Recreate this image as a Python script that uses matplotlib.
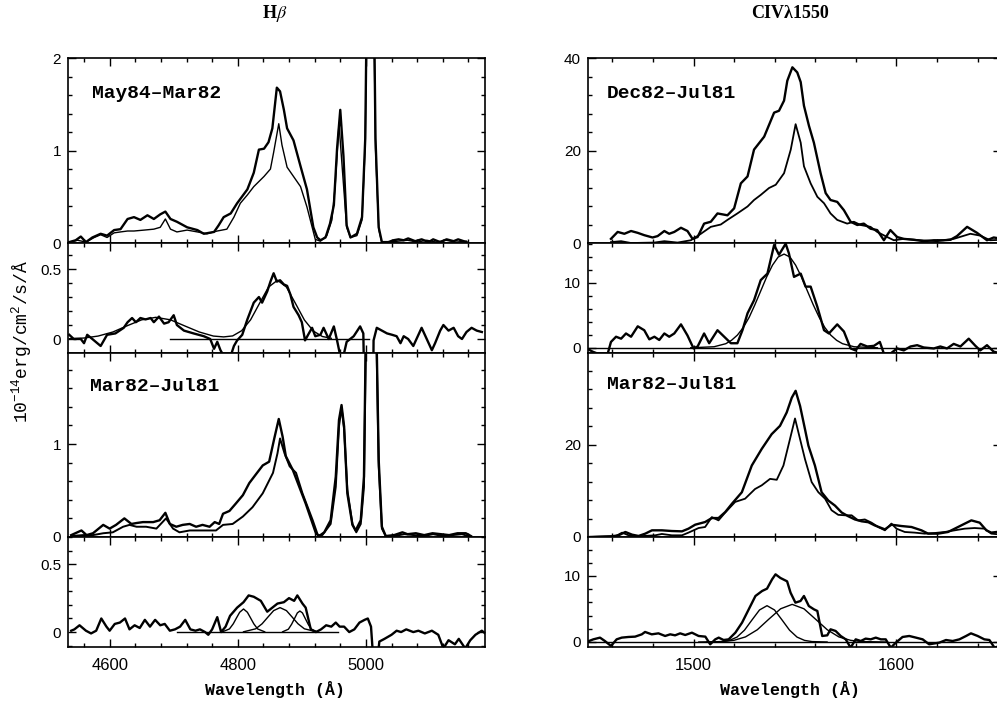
import matplotlib.pyplot as plt
from matplotlib.ticker import MultipleLocator, FuncFormatter

plt.rcParams['mathtext.fontset'] = 'stix'

# ---- H-beta region (left column) ----
# May84 and Mar82 spectra (thick = May84, thin = Mar82 scaled)
hb_may84 = [(4537, 0.01), (4547, 0.03), (4555, 0.07), (4563, 0.01), (4573, 0.06), (4586, 0.10),
            (4596, 0.08), (4607, 0.14), (4617, 0.15), (4628, 0.26), (4638, 0.28), (4648, 0.25),
            (4659, 0.30), (4669, 0.26), (4679, 0.31), (4687, 0.34), (4695, 0.26), (4705, 0.23),
            (4721, 0.17), (4737, 0.14), (4747, 0.10), (4763, 0.12), (4770, 0.19), (4778, 0.28),
            (4789, 0.32), (4799, 0.43), (4815, 0.58), (4825, 0.76), (4833, 1.01), (4841, 1.02),
            (4848, 1.09), (4854, 1.24), (4861, 1.68), (4866, 1.64), (4872, 1.44), (4877, 1.24),
            (4887, 1.11), (4898, 0.83), (4908, 0.58), (4918, 0.17), (4924, 0.06), (4929, 0.03),
            (4937, 0.06), (4944, 0.21), (4950, 0.41), (4955, 1.02), (4960, 1.44), (4965, 0.94),
            (4970, 0.19), (4976, 0.06), (4986, 0.10), (4994, 0.28), (4999, 1.13), (5007, 6.0),
            (5015, 1.13), (5020, 0.17), (5025, 0.01), (5035, 0.01), (5043, 0.03), (5051, 0.04),
            (5059, 0.03), (5066, 0.05), (5077, 0.02), (5087, 0.04), (5098, 0.01), (5105, 0.04),
            (5116, 0.01), (5126, 0.04), (5137, 0.02), (5144, 0.04), (5157, 0.01)]
hb_mar82a = [(4537, 0.01), (4550, 0.03), (4563, 0.01), (4576, 0.06), (4586, 0.09), (4596, 0.06),
             (4607, 0.11), (4617, 0.12), (4628, 0.13), (4638, 0.13), (4654, 0.14), (4669, 0.15),
             (4679, 0.17), (4687, 0.26), (4695, 0.15), (4705, 0.12), (4721, 0.14), (4737, 0.12),
             (4752, 0.10), (4768, 0.13), (4783, 0.15), (4794, 0.28), (4804, 0.43), (4815, 0.52),
             (4825, 0.61), (4841, 0.72), (4851, 0.80), (4856, 0.98), (4864, 1.29), (4869, 1.06),
             (4877, 0.82), (4887, 0.72), (4898, 0.61), (4908, 0.39), (4921, 0.04), (4929, 0.02),
             (4939, 0.08), (4947, 0.25), (4952, 0.61), (4958, 1.29), (4963, 0.82), (4970, 0.17),
             (4976, 0.06), (4986, 0.08), (4994, 0.25), (4999, 1.06), (5007, 5.5), (5015, 1.02),
             (5020, 0.15), (5025, 0.0), (5035, 0.01), (5050, 0.02), (5065, 0.03), (5080, 0.01),
             (5095, 0.03), (5110, 0.01), (5125, 0.03), (5140, 0.01), (5157, 0.02)]

# difference spectrum May84-Mar82 and its fit
hb_diff1 = [(4537, 0.03), (4544, 0.0), (4555, 0.0), (4560, -0.03), (4565, 0.03), (4573, 0.0),
            (4586, -0.05), (4596, 0.03), (4609, 0.04), (4622, 0.08), (4628, 0.12), (4635, 0.15),
            (4641, 0.12), (4648, 0.15), (4656, 0.14), (4664, 0.15), (4669, 0.12), (4677, 0.16),
            (4685, 0.11), (4692, 0.12), (4700, 0.17), (4705, 0.10), (4716, 0.06), (4731, 0.04),
            (4747, 0.02), (4757, 0.0), (4763, -0.07), (4768, -0.02), (4773, -0.08), (4778, -0.12),
            (4789, -0.12), (4794, -0.05), (4799, -0.01), (4807, 0.03), (4815, 0.14), (4825, 0.26),
            (4833, 0.30), (4838, 0.26), (4846, 0.34), (4851, 0.41), (4856, 0.47), (4861, 0.41),
            (4866, 0.42), (4872, 0.39), (4877, 0.38), (4882, 0.32), (4887, 0.23), (4895, 0.17),
            (4900, 0.12), (4905, -0.01), (4911, 0.04), (4916, 0.08), (4921, 0.02), (4929, 0.03),
            (4934, 0.08), (4942, 0.0), (4950, 0.09), (4955, -0.01), (4960, -0.12), (4965, -0.12),
            (4970, -0.02), (4981, 0.02), (4991, 0.09), (4996, 0.04), (5000, -1.0), (5010, -1.0),
            (5012, -0.01), (5017, 0.08), (5025, 0.06), (5033, 0.04), (5041, 0.03), (5048, 0.02),
            (5054, -0.03), (5059, 0.02), (5066, 0.0), (5074, -0.05), (5079, 0.0), (5087, 0.08),
            (5095, 0.0), (5103, -0.08), (5108, -0.03), (5116, 0.06), (5121, 0.10), (5129, 0.06),
            (5137, 0.08), (5144, 0.02), (5150, 0.0), (5157, 0.05), (5165, 0.08), (5173, 0.06),
            (5181, 0.05)]
hb_fit1 = [(4537, 0.002), (4560, 0.007), (4582, 0.021), (4605, 0.050), (4627, 0.094), (4650, 0.137),
           (4672, 0.155), (4695, 0.137), (4717, 0.094), (4740, 0.050), (4762, 0.021), (4778, 0.015),
           (4792, 0.022), (4806, 0.059), (4820, 0.137), (4834, 0.255), (4848, 0.371), (4862, 0.42),
           (4876, 0.371), (4890, 0.255), (4904, 0.136), (4918, 0.057), (4932, 0.018), (4946, 0.005)]
hb_base1 = [(4695, 0.0), (5005, 0.0)]

# Mar82 and Jul81 spectra
hb_mar82b = [(4540, 0.02), (4556, 0.07), (4564, 0.02), (4574, 0.04), (4590, 0.13), (4600, 0.09),
             (4610, 0.13), (4623, 0.20), (4634, 0.14), (4642, 0.15), (4652, 0.16), (4668, 0.16),
             (4678, 0.18), (4687, 0.26), (4694, 0.14), (4704, 0.11), (4714, 0.13), (4725, 0.14),
             (4735, 0.11), (4745, 0.13), (4756, 0.11), (4764, 0.16), (4771, 0.14), (4777, 0.25),
             (4787, 0.28), (4797, 0.36), (4808, 0.45), (4818, 0.58), (4829, 0.68), (4839, 0.77),
             (4849, 0.81), (4857, 1.06), (4864, 1.27), (4870, 1.08), (4875, 0.87), (4886, 0.72),
             (4896, 0.54), (4906, 0.36), (4917, 0.14), (4922, 0.04), (4927, 0.01), (4935, 0.05),
             (4945, 0.18), (4953, 0.65), (4958, 1.26), (4962, 1.42), (4966, 1.19), (4971, 0.47),
             (4979, 0.13), (4984, 0.07), (4992, 0.18), (4997, 0.65), (5007, 6.0), (5020, 0.83),
             (5025, 0.11), (5031, 0.01), (5044, 0.02), (5057, 0.05), (5065, 0.03), (5078, 0.04),
             (5091, 0.02), (5104, 0.04), (5117, 0.03), (5130, 0.02), (5143, 0.04), (5156, 0.04),
             (5164, 0.01)]
hb_jul81 = [(4540, 0.01), (4558, 0.02), (4574, 0.02), (4590, 0.04), (4605, 0.05), (4621, 0.11),
            (4631, 0.13), (4642, 0.11), (4657, 0.11), (4673, 0.09), (4688, 0.20), (4699, 0.09),
            (4709, 0.05), (4725, 0.07), (4745, 0.07), (4766, 0.07), (4777, 0.13), (4792, 0.14),
            (4808, 0.22), (4823, 0.32), (4839, 0.47), (4855, 0.69), (4862, 0.90), (4866, 1.06),
            (4873, 0.90), (4881, 0.76), (4891, 0.69), (4901, 0.47), (4917, 0.18), (4925, 0.02),
            (4932, 0.02), (4945, 0.14), (4953, 0.54), (4958, 1.19), (4962, 1.39), (4966, 1.16),
            (4971, 0.51), (4979, 0.14), (4985, 0.05), (4992, 0.14), (4997, 0.54), (5007, 5.8),
            (5020, 0.76), (5025, 0.09), (5031, 0.01), (5044, 0.01), (5060, 0.03), (5075, 0.02),
            (5090, 0.01), (5105, 0.03), (5120, 0.01), (5135, 0.02), (5150, 0.03), (5164, 0.0)]

# difference spectrum Mar82-Jul81 and three gaussian components
hb_diff2 = [(4540, 0.01), (4545, 0.02), (4553, 0.05), (4563, 0.01), (4571, -0.01), (4579, 0.01),
            (4587, 0.10), (4595, 0.04), (4600, 0.01), (4608, 0.06), (4616, 0.07), (4624, 0.10),
            (4631, 0.02), (4639, 0.05), (4647, 0.03), (4655, 0.09), (4663, 0.04), (4671, 0.09),
            (4679, 0.05), (4686, 0.06), (4694, 0.01), (4702, 0.02), (4710, 0.04), (4718, 0.09),
            (4726, 0.02), (4734, 0.01), (4741, 0.02), (4749, 0.0), (4754, -0.02), (4760, 0.02),
            (4768, 0.11), (4774, 0.0), (4781, 0.04), (4788, 0.12), (4799, 0.18), (4809, 0.22),
            (4817, 0.27), (4825, 0.26), (4836, 0.23), (4846, 0.15), (4854, 0.18), (4862, 0.21),
            (4872, 0.22), (4880, 0.25), (4888, 0.23), (4893, 0.27), (4901, 0.21), (4906, 0.18),
            (4914, 0.02), (4922, 0.0), (4930, 0.02), (4938, 0.05), (4946, 0.04), (4953, 0.07),
            (4959, 0.04), (4966, 0.04), (4974, 0.0), (4982, 0.02), (4990, 0.07), (4998, 0.09),
            (5003, 0.10), (5008, 0.04), (5013, -0.3), (5016, -0.3), (5021, -0.07), (5029, -0.05),
            (5040, -0.02), (5048, 0.01), (5055, 0.0), (5063, 0.02), (5074, 0.0), (5082, 0.01),
            (5092, -0.01), (5103, 0.01), (5113, -0.02), (5121, -0.12), (5129, -0.06), (5139, -0.09),
            (5145, -0.05), (5155, -0.12), (5163, -0.06), (5171, -0.02), (5181, 0.01), (5189, -0.02)]
hb_comp_a = [(4776, 0.002), (4787, 0.023), (4793, 0.061), (4798, 0.104), (4803, 0.146), (4809, 0.17),
             (4815, 0.146), (4820, 0.104), (4825, 0.061), (4831, 0.023), (4842, 0.002)]
hb_comp_b = [(4809, 0.002), (4828, 0.024), (4838, 0.061), (4847, 0.110), (4856, 0.158), (4866, 0.18),
             (4876, 0.158), (4885, 0.110), (4894, 0.061), (4904, 0.024), (4923, 0.002)]
hb_comp_c = [(4870, 0.002), (4879, 0.021), (4884, 0.057), (4888, 0.094), (4893, 0.141), (4897, 0.155),
             (4901, 0.141), (4906, 0.094), (4910, 0.057), (4915, 0.021), (4924, 0.002)]
hb_base2 = [(4705, 0.0), (4957, 0.0)]

# ---- CIV region (right column) ----
civ_dec82 = [(1459.3, 0.9), (1462.6, 2.4), (1465.9, 2.0), (1469.2, 2.6), (1472.5, 2.2), (1475.7, 1.7),
             (1479.8, 1.2), (1482.3, 1.5), (1485.6, 2.6), (1488.0, 2.0), (1490.5, 2.4), (1493.8, 3.3),
             (1497.0, 2.6), (1499.5, 0.9), (1502.0, 1.3), (1505.2, 4.2), (1508.5, 4.6), (1511.8, 6.4),
             (1516.7, 6.0), (1520.0, 7.5), (1523.3, 12.9), (1526.6, 14.4), (1529.8, 20.2), (1534.8, 23.0),
             (1539.7, 28.2), (1542.1, 28.6), (1544.6, 30.8), (1546.2, 35.1), (1548.7, 38.0), (1551.1, 36.9),
             (1552.8, 34.8), (1554.4, 29.7), (1556.9, 25.3), (1559.3, 21.7), (1562.6, 15.1), (1565.1, 10.8),
             (1567.5, 9.3), (1570.8, 8.9), (1574.1, 7.1), (1577.4, 4.6), (1580.7, 3.9), (1583.9, 4.2),
             (1587.2, 3.1), (1590.5, 2.8), (1593.8, 0.6), (1597.0, 2.8), (1600.3, 1.3), (1603.6, 0.9),
             (1608.5, 0.7), (1613.4, 0.4), (1618.4, 0.6), (1623.3, 0.6), (1626.6, 0.7), (1629.8, 1.5),
             (1634.8, 3.5), (1639.7, 2.2), (1644.6, 0.6), (1647.9, 1.2), (1652.0, 0.9)]
civ_jul81a = [(1459.3, 0.2), (1464.3, 0.4), (1469.2, 0.0), (1480.7, 0.1), (1485.6, 0.4), (1492.1, 0.1),
              (1498.7, 0.6), (1503.6, 2.0), (1508.5, 3.5), (1513.4, 4.0), (1516.7, 5.0), (1521.6, 6.4),
              (1526.6, 7.9), (1529.8, 9.3), (1533.1, 10.4), (1537.2, 11.9), (1540.5, 12.6), (1544.6, 15.1),
              (1547.9, 20.2), (1550.3, 25.7), (1552.8, 21.7), (1554.4, 16.6), (1557.7, 12.9), (1561.0, 10.0),
              (1564.3, 8.6), (1567.5, 6.4), (1570.8, 5.0), (1575.7, 4.2), (1579.0, 4.6), (1582.3, 3.9),
              (1587.2, 3.5), (1590.5, 2.4), (1595.4, 1.3), (1598.7, 0.6), (1603.6, 0.9), (1611.8, 0.6),
              (1620.0, 0.4), (1628.2, 0.9), (1636.4, 2.0), (1641.3, 1.6), (1646.2, 0.6), (1652.0, 0.7)]

civ_diff1 = [(1448.5, -0.3), (1450.3, -0.6), (1452.8, -0.9), (1457.7, -0.9), (1459.3, 0.9), (1461.8, 1.7),
             (1464.3, 1.4), (1466.7, 2.2), (1469.2, 1.7), (1472.5, 3.3), (1475.7, 2.7), (1478.2, 1.3),
             (1480.7, 1.7), (1483.1, 1.2), (1485.6, 2.2), (1488.0, 1.7), (1490.5, 2.2), (1493.8, 3.6),
             (1497.0, 1.9), (1500.0, -0.1), (1502.0, 0.2), (1505.2, 2.2), (1507.7, 0.7), (1511.8, 2.7),
             (1515.1, 1.7), (1518.4, 0.7), (1521.6, 0.7), (1524.1, 2.7), (1526.6, 5.3), (1529.8, 7.3),
             (1533.1, 10.4), (1536.4, 11.4), (1539.7, 15.8), (1542.1, 14.3), (1545.4, 16.0), (1547.0, 14.5),
             (1549.5, 10.9), (1552.8, 11.4), (1555.2, 9.4), (1557.7, 9.4), (1561.0, 6.3), (1564.3, 2.7),
             (1566.7, 2.2), (1570.8, 3.6), (1574.1, 2.5), (1577.4, -0.1), (1579.8, -0.4), (1582.3, 0.6),
             (1585.6, 0.2), (1588.9, 0.3), (1591.8, 0.9), (1593.8, -0.9), (1597.0, -0.9), (1600.3, -0.1),
             (1603.6, -0.4), (1606.9, 0.2), (1610.2, 0.4), (1613.4, 0.05), (1618.4, -0.1), (1621.6, 0.2),
             (1624.9, -0.1), (1628.2, 0.6), (1631.5, 0.2), (1635.6, 1.4), (1638.9, 0.3), (1641.3, -0.4),
             (1644.6, 0.4), (1647.9, -0.6), (1652.0, -0.9)]
civ_fit1 = [(1498.6, 0.0), (1510.1, 0.16), (1515.9, 0.63), (1518.7, 1.15), (1521.6, 1.95), (1524.5, 3.11),
            (1527.4, 4.68), (1530.2, 6.6), (1533.1, 8.73), (1536.0, 10.87), (1538.9, 12.7), (1541.7, 13.95),
            (1544.6, 14.4), (1547.5, 13.95), (1550.3, 12.7), (1553.2, 10.87), (1556.1, 8.73), (1559.0, 6.6),
            (1561.9, 4.68), (1564.7, 3.11), (1567.6, 1.95), (1570.5, 1.15), (1573.4, 0.63), (1579.1, 0.16),
            (1590.6, 0.0)]

civ_mar82 = [(1449.2, 0.0), (1459.8, 0.15), (1463.1, 0.36), (1466.4, 1.08), (1469.7, 0.5), (1472.9, 0.22),
             (1476.2, 0.72), (1479.5, 1.44), (1484.4, 1.44), (1489.3, 1.29), (1494.3, 1.22), (1497.5, 1.8),
             (1500.8, 2.66), (1505.7, 3.24), (1509.0, 4.1), (1512.3, 4.1), (1515.6, 5.4), (1518.9, 7.2),
             (1523.8, 9.7), (1528.7, 15.5), (1533.6, 19.1), (1538.5, 22.3), (1542.6, 24.1), (1545.9, 27.0),
             (1548.4, 30.2), (1550.3, 31.7), (1552.5, 28.4), (1554.9, 23.4), (1556.6, 19.8), (1559.8, 15.5),
             (1563.1, 9.7), (1566.4, 7.9), (1569.7, 6.8), (1573.0, 5.3), (1576.2, 4.5), (1579.5, 3.8),
             (1582.8, 3.4), (1586.1, 3.2), (1589.3, 2.5), (1594.3, 1.65), (1597.5, 2.66), (1602.5, 2.37),
             (1607.4, 2.16), (1612.3, 1.44), (1615.6, 0.72), (1620.5, 0.72), (1625.4, 1.08), (1628.7, 1.8),
             (1633.6, 2.88), (1636.9, 3.6), (1641.0, 3.1), (1644.3, 1.44), (1646.7, 0.94), (1652.0, 1.22)]
civ_jul81b = [(1449.2, 0.0), (1461.5, 0.15), (1464.8, 0.94), (1468.0, 0.36), (1472.9, 0.15), (1481.1, 0.36),
              (1484.4, 0.65), (1489.3, 0.36), (1494.3, 0.36), (1497.5, 0.94), (1500.0, 1.44), (1502.5, 1.94),
              (1505.7, 2.16), (1509.0, 4.3), (1512.3, 3.6), (1515.6, 5.3), (1520.5, 7.6), (1525.4, 8.3),
              (1530.3, 10.4), (1533.6, 11.2), (1537.7, 12.6), (1541.0, 12.4), (1544.3, 15.5), (1547.5, 21.2),
              (1550.0, 25.7), (1552.5, 21.2), (1554.9, 16.9), (1558.2, 11.9), (1561.5, 9.7), (1564.8, 8.3),
              (1568.0, 5.8), (1571.3, 4.8), (1574.6, 4.7), (1577.9, 4.7), (1581.1, 3.6), (1584.4, 3.8),
              (1587.7, 3.1), (1591.0, 2.16), (1594.3, 1.44), (1597.5, 2.9), (1600.0, 1.8), (1604.1, 1.08),
              (1609.0, 0.94), (1613.9, 0.72), (1618.9, 0.86), (1623.8, 1.08), (1628.7, 1.44), (1633.6, 1.8),
              (1638.5, 1.94), (1643.4, 1.8), (1646.7, 0.72), (1652.0, 0.5)]

civ_diff2 = [(1448.5, 0.15), (1450.6, 0.4), (1453.9, 0.66), (1456.3, 0.15), (1459.3, -0.6), (1462.1, 0.4),
             (1464.6, 0.66), (1467.9, 0.76), (1471.2, 0.81), (1474.5, 1.16), (1476.1, 1.52), (1479.4, 1.16),
             (1482.7, 1.31), (1486.0, 0.91), (1488.5, 1.16), (1490.9, 1.01), (1493.4, 1.31), (1495.9, 1.06),
             (1499.2, 1.41), (1502.5, 0.91), (1505.8, 0.81), (1508.2, -0.35), (1510.7, 0.4), (1512.4, 0.66),
             (1514.8, 0.3), (1517.3, 0.4), (1520.6, 1.41), (1523.9, 2.93), (1527.2, 4.95), (1530.5, 6.97),
             (1533.8, 7.73), (1536.2, 8.08), (1538.7, 9.49), (1540.4, 10.25), (1542.8, 9.7), (1546.1, 9.19),
             (1547.8, 7.47), (1550.2, 5.96), (1552.7, 6.21), (1554.4, 6.97), (1556.8, 5.45), (1559.3, 4.95),
             (1561.0, 4.7), (1561.8, 3.43), (1563.4, 0.91), (1565.9, 1.01), (1567.5, 1.92), (1570.0, 1.67),
             (1572.5, 0.91), (1575.0, 0.4), (1577.4, -0.86), (1579.9, 0.4), (1582.4, 0.15), (1584.8, 0.51),
             (1587.3, 0.4), (1589.8, 0.66), (1592.3, 0.4), (1594.7, 0.4), (1597.2, -0.86), (1599.7, -0.1),
             (1603.0, 0.76), (1606.3, 0.91), (1609.6, 0.66), (1612.9, 0.4), (1616.1, -0.35), (1621.1, -0.1),
             (1624.4, 0.3), (1627.7, 0.15), (1631.0, 0.4), (1634.3, 0.91), (1636.7, 1.31), (1640.0, 0.91),
             (1643.3, 0.4), (1645.8, 0.3), (1648.3, -0.86), (1652.0, -0.5)]
civ_comp_a = [(1506.6, 0.0), (1514.0, 0.06), (1517.7, 0.24), (1521.4, 0.74), (1525.1, 1.79), (1528.8, 3.34),
              (1532.5, 4.85), (1536.2, 5.5), (1539.9, 4.85), (1543.6, 3.34), (1547.3, 1.79), (1551.0, 0.74),
              (1554.7, 0.24), (1558.4, 0.06), (1565.8, 0.0)]
civ_comp_b = [(1502.6, 0.0), (1514.1, 0.06), (1519.9, 0.25), (1525.6, 0.77), (1531.4, 1.85), (1537.1, 3.46),
              (1542.9, 5.03), (1548.6, 5.7), (1554.4, 5.03), (1560.1, 3.46), (1565.9, 1.85), (1571.6, 0.77),
              (1577.4, 0.25), (1583.1, 0.06), (1594.6, 0.0)]

hb_xlim = (4535, 5186)
civ_xlim = (1448, 1651.5)


def pts(curve):
    return [p[0] for p in curve], [p[1] for p in curve]


def setup(ax, xlim, ylim, xmaj, xmin, ymaj, ymin, bottom_labels=False):
    ax.set_xlim(*xlim)
    ax.set_ylim(*ylim)
    ax.xaxis.set_major_locator(MultipleLocator(xmaj))
    ax.xaxis.set_minor_locator(MultipleLocator(xmin))
    ax.yaxis.set_major_locator(MultipleLocator(ymaj))
    ax.yaxis.set_minor_locator(MultipleLocator(ymin))
    ax.yaxis.set_major_formatter(FuncFormatter(lambda v, p: '%g' % v))
    ax.tick_params(which='both', direction='in', top=True, right=True, width=1.0)
    ax.tick_params(which='major', length=6)
    ax.tick_params(which='minor', length=3)
    ax.tick_params(axis='y', labelsize=11, pad=5)
    ax.tick_params(axis='x', labelsize=12, pad=8, labelbottom=bottom_labels)
    for lab in ax.get_xticklabels() + ax.get_yticklabels():
        lab.set_fontfamily('Liberation Sans')
    for s in ax.spines.values():
        s.set_linewidth(1.2)


fig = plt.figure(figsize=(9.97, 7.15), dpi=100)

rows = [(0.6601, 0.2587), (0.5063, 0.1538), (0.2490, 0.2573), (0.0951, 0.1538)]
left_axes = [fig.add_axes([0.0682, b, 0.4183, h]) for b, h in rows]
right_axes = [fig.add_axes([0.5898, b, 0.4142, h]) for b, h in rows]

thick = 1.7
thin = 1.0

# left column
ax = left_axes[0]
ax.plot(*pts(hb_may84), color='black', lw=thick)
ax.plot(*pts(hb_mar82a), color='black', lw=thin)
setup(ax, hb_xlim, (0, 2), 200, 40, 1, 0.2)
ax.text(0.058, 0.81, 'May84\u2013Mar82', transform=ax.transAxes, fontsize=14,
        fontfamily='Liberation Mono', fontweight='bold', va='center')

ax = left_axes[1]
ax.plot(*pts(hb_diff1), color='black', lw=thick)
ax.plot(*pts(hb_fit1), color='black', lw=thin)
ax.plot(*pts(hb_base1), color='black', lw=thin)
setup(ax, hb_xlim, (-0.1, 0.686), 200, 40, 0.5, 0.1)

ax = left_axes[2]
ax.plot(*pts(hb_mar82b), color='black', lw=thick)
ax.plot(*pts(hb_jul81), color='black', lw=1.4)
setup(ax, hb_xlim, (0, 1.98), 200, 40, 1, 0.2)
ax.text(0.053, 0.82, 'Mar82\u2013Jul81', transform=ax.transAxes, fontsize=14,
        fontfamily='Liberation Mono', fontweight='bold', va='center')

ax = left_axes[3]
ax.plot(*pts(hb_diff2), color='black', lw=thick)
for comp in (hb_comp_a, hb_comp_b, hb_comp_c, hb_base2):
    ax.plot(*pts(comp), color='black', lw=thin)
setup(ax, hb_xlim, (-0.11, 0.70), 200, 40, 0.5, 0.1, bottom_labels=True)

# right column
ax = right_axes[0]
ax.plot(*pts(civ_dec82), color='black', lw=thick)
ax.plot(*pts(civ_jul81a), color='black', lw=1.3)
setup(ax, civ_xlim, (0, 40), 100, 20, 20, 4)
ax.text(0.046, 0.81, 'Dec82\u2013Jul81', transform=ax.transAxes, fontsize=14,
        fontfamily='Liberation Mono', fontweight='bold', va='center')

ax = right_axes[1]
ax.axhline(0, color='black', lw=thin)
ax.plot(*pts(civ_diff1), color='black', lw=thick)
ax.plot(*pts(civ_fit1), color='black', lw=thin)
setup(ax, civ_xlim, (-0.8, 16.1), 100, 20, 10, 2)

ax = right_axes[2]
ax.plot(*pts(civ_mar82), color='black', lw=thick)
ax.plot(*pts(civ_jul81b), color='black', lw=1.3)
setup(ax, civ_xlim, (0, 39.9), 100, 20, 20, 4)
ax.text(0.046, 0.83, 'Mar82\u2013Jul81', transform=ax.transAxes, fontsize=14,
        fontfamily='Liberation Mono', fontweight='bold', va='center')

ax = right_axes[3]
ax.axhline(0, color='black', lw=thin)
ax.plot(*pts(civ_diff2), color='black', lw=thick)
ax.plot(*pts(civ_comp_a), color='black', lw=thin)
ax.plot(*pts(civ_comp_b), color='black', lw=thin)
setup(ax, civ_xlim, (-0.76, 15.9), 100, 20, 10, 2, bottom_labels=True)

# titles and axis labels
fig.text(275 / 997, 1 - 14 / 715, r'H$\beta$', ha='center', va='center', fontsize=13,
         fontfamily='Liberation Serif', fontweight='bold')
fig.text(790 / 997, 1 - 14 / 715, 'CIV\u03bb1550', ha='center', va='center', fontsize=13,
         fontfamily='Liberation Serif', fontweight='bold')
for xc in (275 / 997, 790 / 997):
    fig.text(xc, 1 - 690 / 715, 'Wavelength (\u00c5)', ha='center', va='center', fontsize=12,
             fontfamily='Liberation Mono', fontweight='bold')
fig.text(22 / 997, 1 - 341 / 715, r'$\mathregular{10^{-14}erg/cm^{2}/s/Å}$', rotation=90,
         ha='center', va='center', fontsize=13, fontfamily='Liberation Mono')

fig.savefig('out.png', dpi=100)
